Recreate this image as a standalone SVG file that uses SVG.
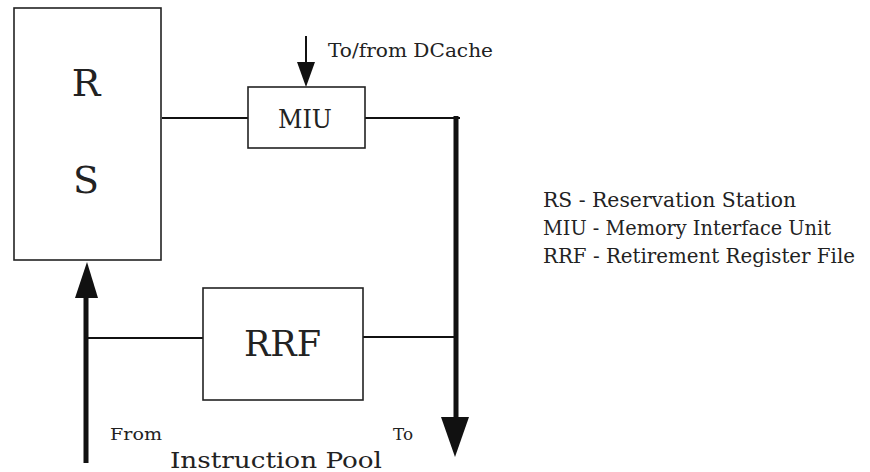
<svg xmlns="http://www.w3.org/2000/svg" width="870" height="472" viewBox="0 0 870 472">
<style>
.box{fill:#fff;stroke:#222;stroke-width:1.6}
.ln{stroke:#111;stroke-width:2;fill:none}
.thick{stroke:#111;stroke-width:5;fill:none}
.t{fill:#222}
</style>
<rect width="870" height="472" fill="#fff"/>
<g id="connectors">
<line class="ln" x1="162" y1="118" x2="248" y2="118"/>
<line class="ln" x1="306" y1="36" x2="306" y2="64"/>
<path d="M297,62 L315,62 L306,87 z" fill="#111"/>
<line class="ln" x1="365" y1="118" x2="460" y2="118"/>
<line class="thick" x1="456" y1="116" x2="456" y2="420"/>
<path d="M441,417 L469,417 L455,457 z" fill="#111"/>
<line class="thick" x1="86" y1="296" x2="86" y2="463"/>
<path d="M75,298 L98,298 L87,262 z" fill="#111"/>
<line class="ln" x1="87" y1="338" x2="203" y2="338"/>
<line class="ln" x1="363" y1="337" x2="455" y2="337"/>
</g>
<g font-family="'DejaVu Serif', serif">
<g id="rs">
<rect class="box" x="14" y="8" width="147" height="252"/>
<text class="t" x="86" y="96" font-size="38" text-anchor="middle">R</text>
<text class="t" x="86" y="193" font-size="38" text-anchor="middle">S</text>
</g>
<g id="miu">
<rect class="box" x="248" y="87" width="117" height="61"/>
<text class="t" x="278" y="128" font-size="26" textLength="54" lengthAdjust="spacingAndGlyphs">MIU</text>
</g>
<g id="rrf">
<rect class="box" x="203" y="288" width="160" height="112"/>
<text class="t" x="244" y="356" font-size="36" textLength="77" lengthAdjust="spacingAndGlyphs">RRF</text>
</g>
<g id="labels">
<text class="t" x="328" y="57" font-size="18" textLength="165" lengthAdjust="spacingAndGlyphs">To/from DCache</text>
<text class="t" x="110" y="440" font-size="16" textLength="52" lengthAdjust="spacingAndGlyphs">From</text>
<text class="t" x="393" y="440" font-size="16" textLength="20" lengthAdjust="spacingAndGlyphs">To</text>
<text class="t" x="170" y="468" font-size="22" textLength="212" lengthAdjust="spacingAndGlyphs">Instruction Pool</text>
</g>
<g id="legend">
<text class="t" x="543" y="207" font-size="20" textLength="253" lengthAdjust="spacingAndGlyphs">RS - Reservation Station</text>
<text class="t" x="543" y="235" font-size="20" textLength="288" lengthAdjust="spacingAndGlyphs">MIU - Memory Interface Unit</text>
<text class="t" x="543" y="263" font-size="20" textLength="312" lengthAdjust="spacingAndGlyphs">RRF - Retirement Register File</text>
</g>
</g>
</svg>
